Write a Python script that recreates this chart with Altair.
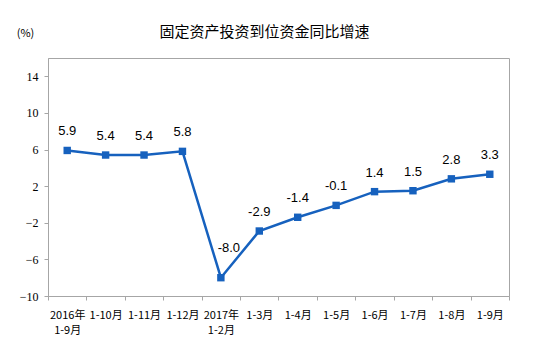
import altair as alt
import pandas as pd

categories = ["2016年\n1-9月", "1-10月", "1-11月", "1-12月", "2017年\n1-2月",
              "1-3月", "1-4月", "1-5月", "1-6月", "1-7月", "1-8月", "1-9月"]
values = [5.9, 5.4, 5.4, 5.8, -8.0, -2.9, -1.4, -0.1, 1.4, 1.5, 2.8, 3.3]
y_ticks = [-10, -6, -2, 2, 6, 10, 14]

df = pd.DataFrame({"cat": categories, "val": values})
df["lbl"] = df["val"].map(lambda v: f"{v:.1f}")

color = "#1661BE"
axis_gray = "#A6A6A6"

x_enc = alt.X("cat:N", sort=categories, scale=alt.Scale(paddingInner=0, paddingOuter=0),
              axis=alt.Axis(title=None, labelAngle=0, domainColor=axis_gray, tickColor=axis_gray,
                            tickSize=4, tickBand="extent", labelPadding=9,
                            labelExpr="split(datum.label, '\\n')", labelLineHeight=15,
                            labelFont="Noto Sans CJK SC", labelFontSize=11, labelColor="#000000",
                            labelBaseline="top"))
y_enc = alt.Y("val:Q", scale=alt.Scale(domain=[-10, 16], nice=False, zero=False),
              axis=alt.Axis(values=y_ticks, grid=False, title="(%)", titleAngle=0,
                            titleX=-23, titleY=-25, titleAlign="center", titleBaseline="middle",
                            titleFont="Noto Sans CJK SC", titleFontSize=11, titleFontWeight="normal",
                            titleColor="#000000",
                            domainColor=axis_gray, tickColor=axis_gray, tickSize=4,
                            labelFont="Liberation Serif", labelFontSize=12, labelColor="#000000",
                            labelPadding=6))

base = alt.Chart(df)
line = base.mark_line(color=color, strokeWidth=2.5).encode(x=x_enc, y=y_enc)
pts = base.mark_square(color=color, size=55, opacity=1).encode(x=x_enc, y=y_enc)
labels = base.transform_filter("datum.val > -5").mark_text(
    dy=-19, font="Liberation Sans", fontSize=13, color="#000000").encode(
    x=x_enc, y=y_enc, text="lbl:N")
low_label = base.transform_filter("datum.val <= -5").mark_text(
    dy=-30, dx=8, font="Liberation Sans", fontSize=13, color="#000000").encode(
    x=x_enc, y=y_enc, text="lbl:N")

chart = alt.layer(line, pts, labels, low_label).properties(
    width=461, height=238,
    autosize=alt.AutoSizeParams(type="none"),
    padding={"left": 40, "top": 50, "right": 18, "bottom": 45},
    title=alt.TitleParams("固定资产投资到位资金同比增速", anchor="middle", dx=-14, dy=13, offset=0,
                          font="Noto Sans CJK SC", fontSize=15, fontWeight="normal", color="#000000"),
    background="#FFFFFF",
).configure_view(stroke=axis_gray, strokeWidth=1)

chart.save("out.html", embed_options={"renderer": "svg", "actions": False})
